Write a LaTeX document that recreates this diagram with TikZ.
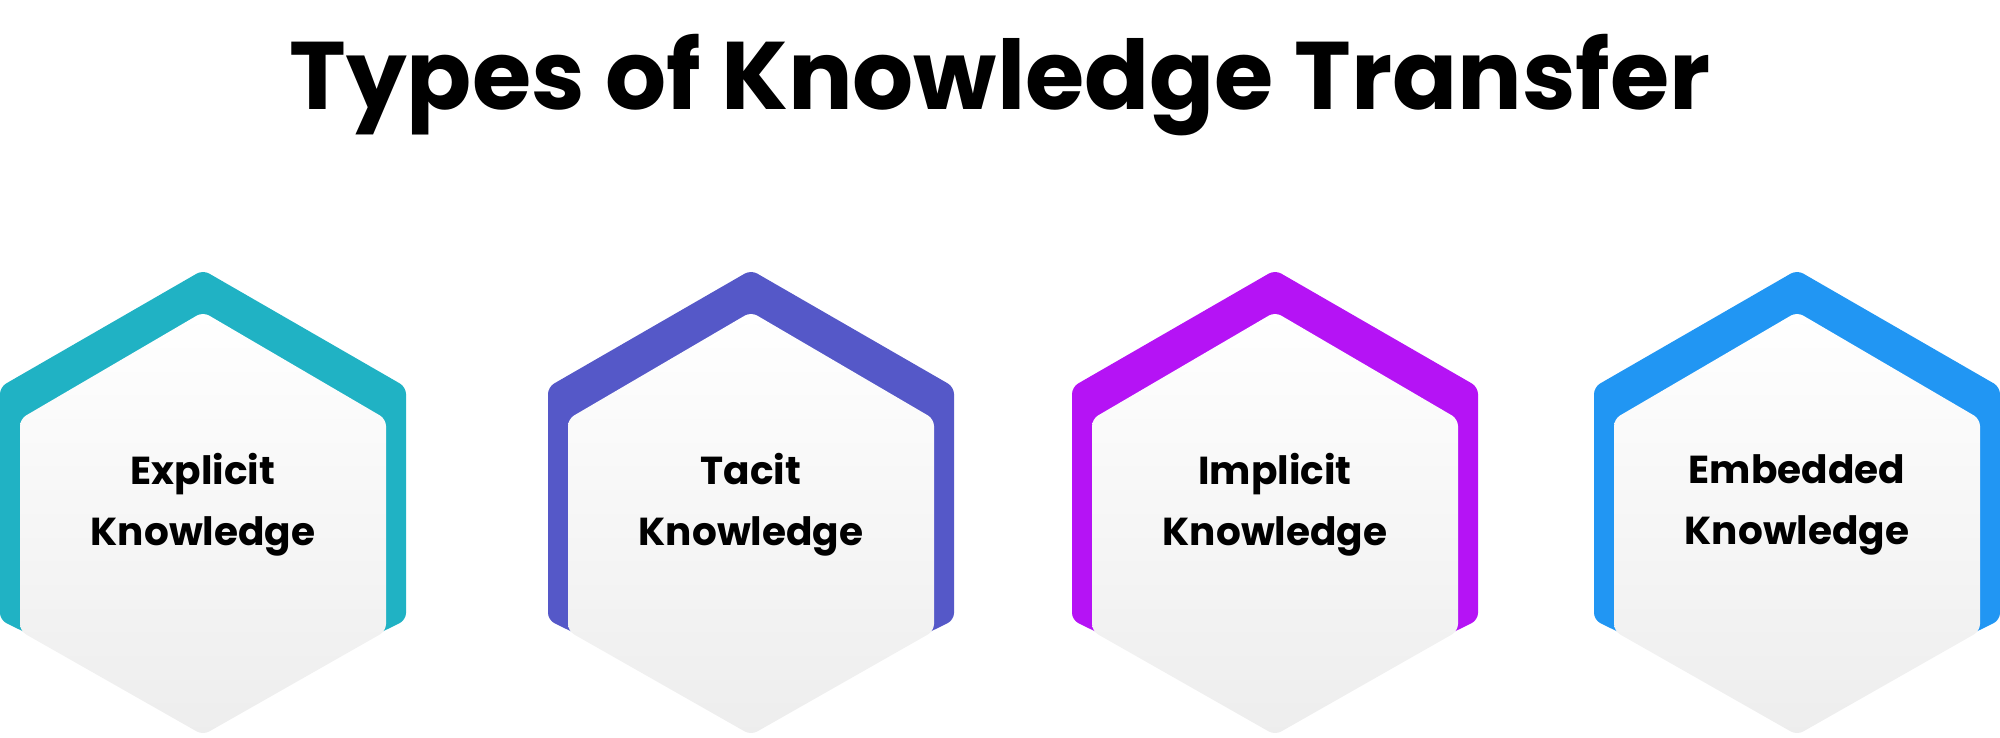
\documentclass[tikz,border=0pt]{standalone}
\usepackage{fontspec}
\setmainfont{Poppins}
\definecolor{cA}{HTML}{20B2C4}
\definecolor{cB}{HTML}{5558C8}
\definecolor{cC}{HTML}{B513F5}
\definecolor{cD}{HTML}{2196F3}
\begin{document}
\begin{tikzpicture}[x=1pt,y=-1pt,
  lbl/.style={font=\fontsize{39}{61}\selectfont\bfseries, align=center, text=black}]
\useasboundingbox (0,0) rectangle (2000,737);
\node[font=\fontsize{96}{110}\selectfont\bfseries] (title) at (1000,85) {Types of Knowledge Transfer};
\foreach \cx/\col/\a/\b [count=\i] in {203/cA/Explicit/Knowledge, 751/cB/Tacit/Knowledge, 1275/cC/Implicit/Knowledge, 1797/cD/Embedded/Knowledge}{
  \fill[\col, rounded corners=7pt] (\cx,270) -- (\cx+203,387) -- (\cx+203,620) -- (\cx,720) -- (\cx-203,620) -- (\cx-203,387) -- cycle;
  \shade[top color=white, bottom color=black!7, rounded corners=7pt]
    (\cx,312) -- (\cx+183,419) -- (\cx+183,631) -- (\cx,735) -- (\cx-183,631) -- (\cx-183,419) -- cycle;
  \node[lbl] (k\i) at (\cx,505) {\a\\\b};
}
\end{tikzpicture}
\end{document}
